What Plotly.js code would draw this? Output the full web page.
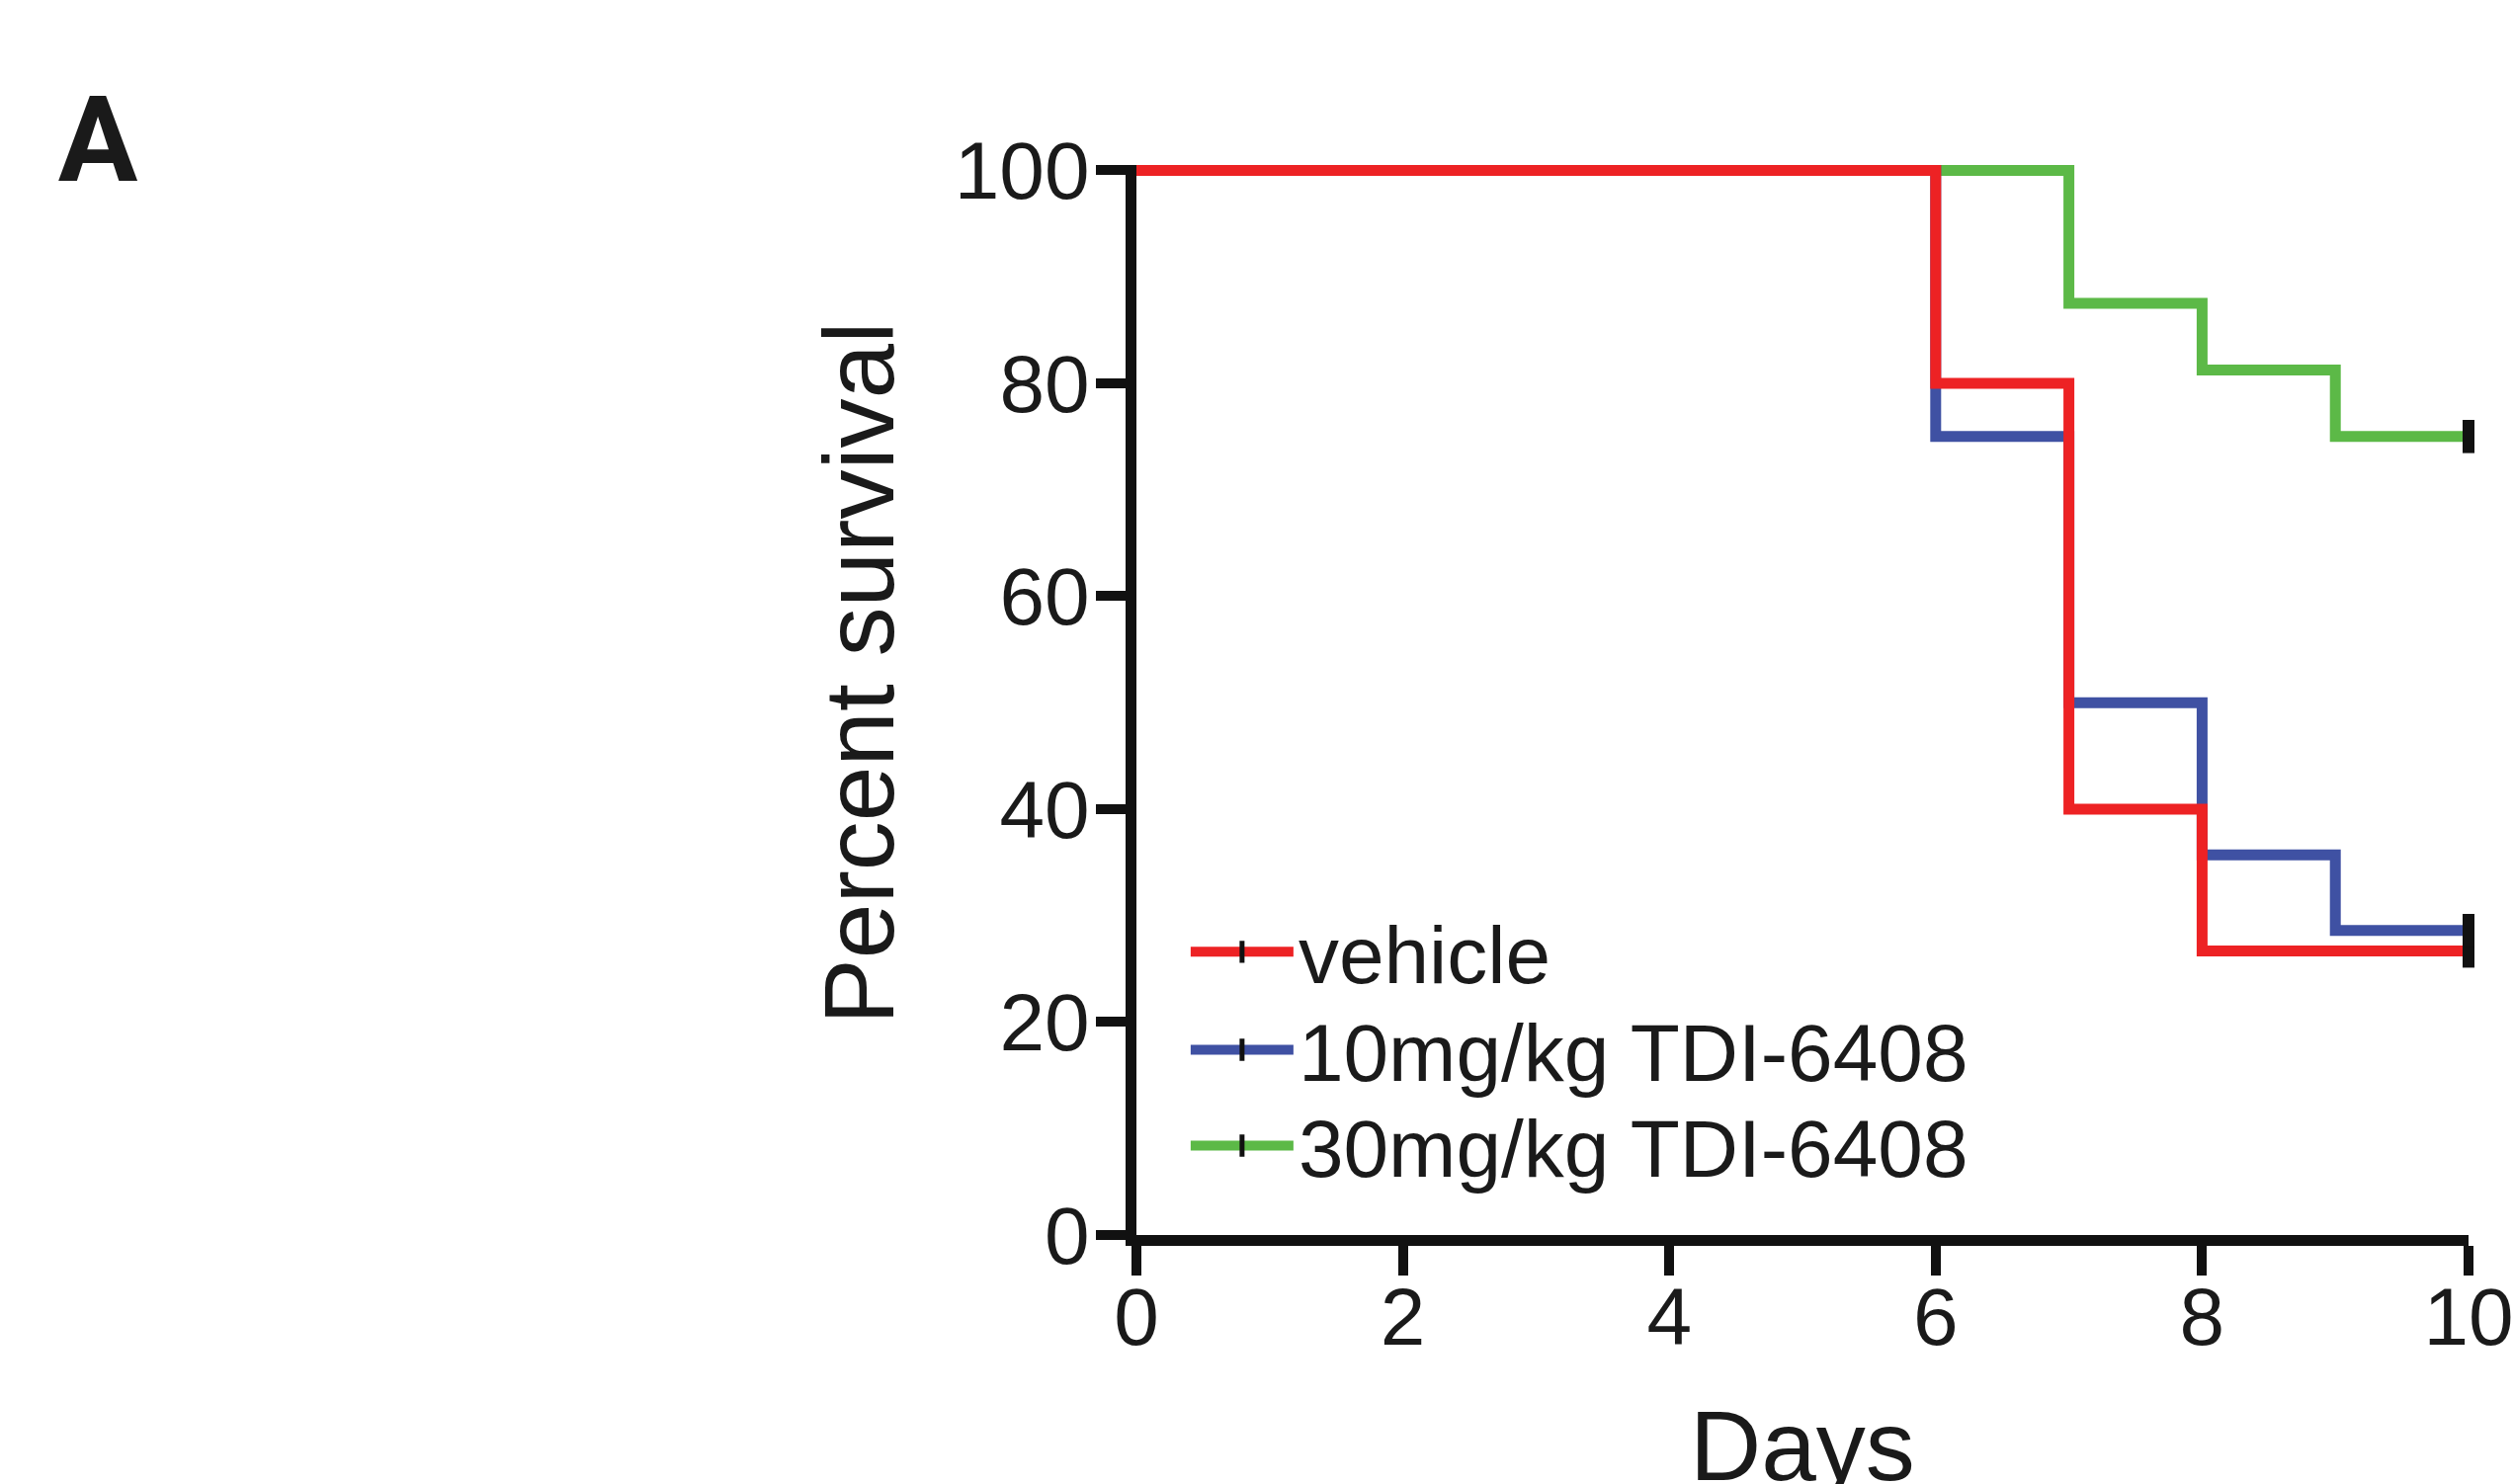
<!DOCTYPE html>
<html>
<head>
<meta charset="utf-8">
<script src="https://cdn.plot.ly/plotly-3.0.1.min.js"></script>
<style>
  html, body { margin: 0; padding: 0; background: #ffffff; }
  #chart { width: 2543px; height: 1502px; }
</style>
</head>
<body>
<div id="chart"></div>
<script>
// ---- Data (Kaplan-Meier step points) ----
const groupNames = ["vehicle", "10mg/kg TDI-6408", "30mg/kg TDI-6408"];
const groupColors = ["#ED2224", "#3F51A3", "#5CB947"];

const vehicleDays = [0, 6, 7, 8, 10];
const vehicleSurvival = [100, 80, 40, 26.67, 26.67];

const dose10Days = [0, 6, 7, 8, 9, 10];
const dose10Survival = [100, 75, 50, 35.7, 28.6, 28.6];

const dose30Days = [0, 7, 8, 9, 10];
const dose30Survival = [100, 87.5, 81.25, 75, 75];

const xTickVals = [0, 2, 4, 6, 8, 10];
const yTickVals = [0, 20, 40, 60, 80, 100];

const panelLabel = "A";
const xTitle = "Days";
const yTitle = "Percent survival";

// ---- Build traces ----
const series = [
  {name: groupNames[0], x: vehicleDays, y: vehicleSurvival, color: groupColors[0], legend: "legend"},
  {name: groupNames[1], x: dose10Days, y: dose10Survival, color: groupColors[1], legend: "legend2"},
  {name: groupNames[2], x: dose30Days, y: dose30Survival, color: groupColors[2], legend: "legend3"}
];

const font = "Liberation Sans, Arial, Helvetica, sans-serif";
const ink = "#1a1a1a";
const traces = [];

// step curves (green, blue first, red on top)
[2, 1, 0].forEach(i => {
  const s = series[i];
  traces.push({
    type: "scatter",
    mode: "lines",
    x: s.x,
    y: s.y,
    line: {shape: "hv", color: s.color, width: 11},
    showlegend: false,
    hoverinfo: "skip"
  });
});

// censor ticks at the last observation (these also carry the legend entries)
series.forEach(s => {
  const n = s.x.length;
  traces.push({
    type: "scatter",
    mode: "lines+markers",
    name: s.name,
    legend: s.legend,
    x: [s.x[n - 1]],
    y: [s.y[n - 1]],
    line: {color: s.color, width: 11},
    marker: {symbol: "line-ns", size: 24, color: "#111111",
             line: {color: "#111111", width: 12}},
    cliponaxis: false,
    showlegend: true
  });
});

function legendAt(yPaper) {
  return {
    x: 0.037, xanchor: "left",
    y: yPaper, yanchor: "middle",
    bgcolor: "rgba(0,0,0,0)",
    borderwidth: 0,
    font: {size: 82, family: font, color: ink},
    itemwidth: 104
  };
}

const layout = {
  width: 2543,
  height: 1502,
  paper_bgcolor: "#ffffff",
  plot_bgcolor: "#ffffff",
  margin: {l: 1150, r: 45, t: 167, b: 252, pad: 0},
  font: {family: font, color: ink, size: 82},
  title: {
    text: panelLabel,
    font: {family: "Roboto, Open Sans, sans-serif", size: 120, weight: 700, color: ink},
    xref: "container", yref: "container",
    x: 0.039, xanchor: "center",
    y: 0.934, yanchor: "top"
  },
  xaxis: {
    range: [0, 10],
    tickvals: xTickVals,
    ticktext: xTickVals.map(String),
    showline: true, linecolor: "#111111", linewidth: 11,
    ticks: "outside", ticklen: 30, tickwidth: 10, tickcolor: "#111111",
    ticklabeloverflow: "allow",
    ticklabelstandoff: -28,
    showgrid: false, zeroline: false,
    tickfont: {size: 82, family: font, color: ink},
    fixedrange: true
  },
  yaxis: {
    range: [0, 100.5],
    tickvals: yTickVals,
    ticktext: yTickVals.map(String),
    showline: true, linecolor: "#111111", linewidth: 11,
    ticks: "outside", ticklen: 30, tickwidth: 10, tickcolor: "#111111",
    ticklabelstandoff: -10,
    showgrid: false, zeroline: false,
    tickfont: {size: 82, family: font, color: ink},
    fixedrange: true
  },
  annotations: [{
    text: yTitle,
    textangle: -90,
    xref: "paper", yref: "paper",
    x: -0.2085, xanchor: "center",
    y: 0.5254, yanchor: "middle",
    showarrow: false,
    font: {size: 100, family: font, color: ink}
  }, {
    text: xTitle,
    xref: "paper", yref: "paper",
    x: 0.5, xanchor: "center",
    y: -0.143, yanchor: "top",
    showarrow: false,
    font: {size: 100, family: font, color: ink}
  }],
  legend: legendAt(0.2645),
  legend2: legendAt(0.173),
  legend3: legendAt(0.0834),
  showlegend: true
};

Plotly.newPlot("chart", traces, layout, {displayModeBar: false, staticPlot: true});
</script>
</body>
</html>
